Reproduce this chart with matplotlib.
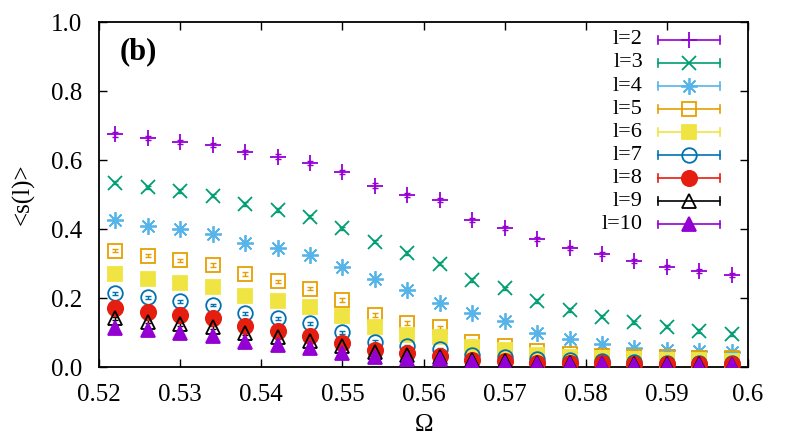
import matplotlib
matplotlib.use("Agg")
import matplotlib.pyplot as plt

plt.rcParams["font.family"] = ["Liberation Serif", "DejaVu Serif"]

omega = [0.522, 0.526, 0.530, 0.534, 0.538, 0.542, 0.546, 0.550, 0.554, 0.558,
         0.562, 0.566, 0.570, 0.574, 0.578, 0.582, 0.586, 0.590, 0.594, 0.598]

s_l2 = [0.674, 0.663, 0.653, 0.643, 0.624, 0.610, 0.592, 0.564, 0.526, 0.499,
        0.484, 0.427, 0.402, 0.370, 0.344, 0.328, 0.308, 0.291, 0.279, 0.267]
s_l3 = [0.534, 0.521, 0.510, 0.497, 0.472, 0.455, 0.436, 0.402, 0.363, 0.330,
        0.300, 0.252, 0.228, 0.191, 0.165, 0.146, 0.129, 0.117, 0.105, 0.096]
s_l4 = [0.426, 0.410, 0.399, 0.386, 0.360, 0.344, 0.325, 0.291, 0.254, 0.223,
        0.185, 0.156, 0.133, 0.100, 0.080, 0.066, 0.056, 0.050, 0.046, 0.043]
s_l5 = [0.337, 0.323, 0.309, 0.296, 0.269, 0.248, 0.227, 0.194, 0.151, 0.127,
        0.115, 0.072, 0.061, 0.046, 0.038, 0.033, 0.030, 0.028, 0.027, 0.026]
s_l6 = [0.270, 0.255, 0.243, 0.232, 0.207, 0.191, 0.175, 0.148, 0.117, 0.092,
        0.087, 0.058, 0.049, 0.036, 0.030, 0.025, 0.022, 0.020, 0.019, 0.018]
s_l7 = [0.214, 0.202, 0.190, 0.180, 0.156, 0.141, 0.127, 0.101, 0.073, 0.061,
        0.051, 0.035, 0.028, 0.022, 0.019, 0.016, 0.014, 0.013, 0.012, 0.011]
s_l8 = [0.172, 0.160, 0.151, 0.141, 0.119, 0.105, 0.091, 0.070, 0.049, 0.040,
        0.032, 0.020, 0.016, 0.013, 0.012, 0.011, 0.010, 0.010, 0.009, 0.009]
s_l9 = [0.141, 0.131, 0.124, 0.115, 0.098, 0.086, 0.076, 0.061, 0.044, 0.036,
        0.030, 0.020, 0.016, 0.013, 0.011, 0.010, 0.009, 0.008, 0.008, 0.007]
s_l10 = [0.114, 0.107, 0.098, 0.091, 0.073, 0.064, 0.054, 0.040, 0.028, 0.024,
         0.022, 0.015, 0.012, 0.010, 0.009, 0.008, 0.007, 0.007, 0.006, 0.006]

labels = ["l=2", "l=3", "l=4", "l=5", "l=6", "l=7", "l=8", "l=9", "l=10"]
errors = [0.006, 0.005, 0.005, 0.005, 0.004, 0.004, 0.004, 0.004, 0.004]
series = [s_l2, s_l3, s_l4, s_l5, s_l6, s_l7, s_l8, s_l9, s_l10]

colors = ["#9400D3", "#009E73", "#56B4E9", "#E69F00", "#F0E442",
          "#0072B2", "#E51E10", "#000000", "#9400D3"]
markers = ["+", "x", (8, 2, 0), "s", "s", "o", "o", "^", "^"]
filled = [True, True, True, False, True, False, True, False, True]
sizes = [12, 10, 12, 10, 10, 10.5, 11, 9.5, 9.5]

fig = plt.figure(figsize=(7.89, 4.41), dpi=100)
ax = fig.add_axes([0.1255, 0.1678, 0.8226, 0.7823])

for vals, err, col, mk, fl, ms in zip(series, errors, colors, markers, filled, sizes):
    face = col if fl else "none"
    ax.errorbar(omega, vals, yerr=err, fmt="none", ecolor=col, elinewidth=1.0,
                capsize=2.5, capthick=1.0, zorder=2)
    ax.plot(omega, vals, linestyle="none", marker=mk, markersize=ms,
            markerfacecolor=face, markeredgecolor=col, markeredgewidth=1.3,
            zorder=3)

# gnuplot-style key: label, line with end caps and a marker in the middle
x_text, x0, x1, xm = 0.838, 0.861, 0.957, 0.909
y_top, dy = 0.948, 0.0668
cap = 0.011
for i, (lab, col, mk, fl, ms) in enumerate(zip(labels, colors, markers, filled, sizes)):
    y = y_top - i * dy
    ax.text(x_text, y, lab, transform=ax.transAxes, ha="right", va="center",
            fontsize=16)
    ax.plot([x0, x1], [y, y], transform=ax.transAxes, color=col, lw=1.2,
            clip_on=False, zorder=4)
    for xc in (x0, x1):
        ax.plot([xc, xc], [y - cap, y + cap], transform=ax.transAxes, color=col,
                lw=1.2, clip_on=False, zorder=4)
    face = col if fl else "none"
    ax.plot([xm], [y], transform=ax.transAxes, marker=mk, markersize=ms,
            markerfacecolor=face, markeredgecolor=col, markeredgewidth=1.3,
            clip_on=False, zorder=5)

ax.text(0.031, 0.913, "(b)", transform=ax.transAxes, fontsize=22,
        fontweight="bold", ha="left", va="center")

ax.set_xlim(0.52, 0.6)
ax.set_ylim(0.0, 1.0)
ax.set_xticks([0.52, 0.53, 0.54, 0.55, 0.56, 0.57, 0.58, 0.59, 0.6])
ax.set_xticklabels(["0.52", "0.53", "0.54", "0.55", "0.56", "0.57", "0.58", "0.59", "0.6"])
ax.set_yticks([0.0, 0.2, 0.4, 0.6, 0.8, 1.0])
ax.set_yticklabels(["0.0", "0.2", "0.4", "0.6", "0.8", "1.0"])
ax.tick_params(direction="in", length=6, width=1.0, top=True, right=True,
               labelsize=18)
ax.tick_params(axis="x", pad=12)
ax.tick_params(axis="y", pad=12)
for sp in ax.spines.values():
    sp.set_linewidth(1.3)

ax.set_xlabel("Ω", fontsize=18, labelpad=6)
ax.set_ylabel("<s(l)>", fontsize=18, labelpad=12)

fig.savefig("out.png", dpi=100)
